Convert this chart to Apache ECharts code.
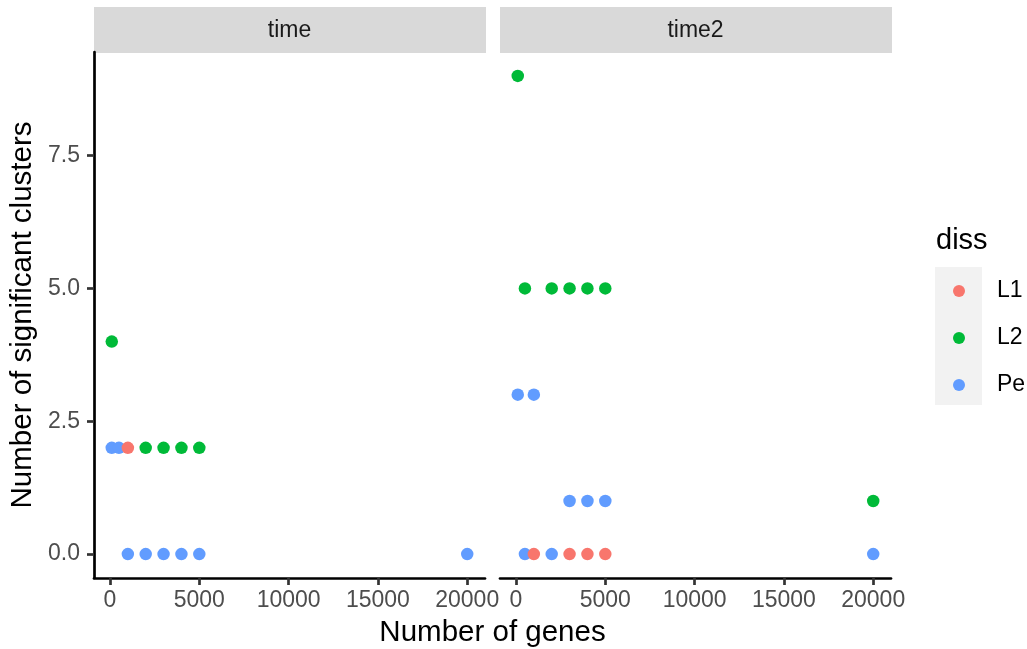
<!DOCTYPE html>
<html>
<head>
<meta charset="utf-8">
<script src="https://cdn.jsdelivr.net/npm/echarts@6/dist/echarts.min.js"></script>
<style>
html,body{margin:0;padding:0;background:#fff;}
#c{width:1027px;height:649px;}
</style>
</head>
<body>
<div id="c"></div>
<script>
// ---- data ----
const panels = ['time', 'time2'];
const groups = ['L1', 'L2', 'Pe'];
const xTicks = [0, 5000, 10000, 15000, 20000];
const yTicks = [0, 2.5, 5.0, 7.5];

// panel "time"
const timeL1 = [[1000, 2]];
const timeL2 = [[100, 4], [2000, 2], [3000, 2], [4000, 2], [5000, 2]];
const timePe = [[100, 2], [500, 2], [1000, 0], [2000, 0], [3000, 0], [4000, 0], [5000, 0], [20000, 0]];

// panel "time2"
const time2L1 = [[1000, 0], [3000, 0], [4000, 0], [5000, 0]];
const time2L2 = [[100, 9], [500, 5], [2000, 5], [3000, 5], [4000, 5], [5000, 5], [20000, 1]];
const time2Pe = [[100, 3], [1000, 3], [3000, 1], [4000, 1], [5000, 1], [500, 0], [2000, 0], [20000, 0]];

const colors = { L1: '#F8766D', L2: '#00BA38', Pe: '#619CFF' };

// ---- layout ----
const FONT = '"Liberation Sans", Arial, sans-serif';
const gridTop = 52, gridH = 526;
const grids = [
  { left: 94, top: gridTop, width: 391, height: gridH },
  { left: 500, top: gridTop, width: 391, height: gridH }
];
const xMin = -895, xMax = 20995, yMin = -0.45, yMax = 9.45;

const chart = echarts.init(document.getElementById('c'), null, { renderer: 'canvas' });

function xAxisFor(i) {
  return {
    type: 'value', gridIndex: i, min: xMin, max: xMax,
    splitLine: { show: false },
    axisLine: { show: true, onZero: false, lineStyle: { color: '#000', width: 2.7 } },
    axisTick: { show: true, length: 7, customValues: xTicks, lineStyle: { color: '#333', width: 2.7 } },
    axisLabel: { customValues: xTicks, margin: 11, color: '#4D4D4D', fontSize: 23, fontFamily: FONT,
      formatter: v => String(v) }
  };
}
function yAxisFor(i) {
  if (i === 1) {
    return { type: 'value', gridIndex: i, min: yMin, max: yMax, show: false, splitLine: { show: false } };
  }
  return {
    type: 'value', gridIndex: i, min: yMin, max: yMax,
    splitLine: { show: false },
    axisLine: { show: true, onZero: false, lineStyle: { color: '#000', width: 2.7 } },
    axisTick: { show: true, length: 7, customValues: yTicks, lineStyle: { color: '#333', width: 2.7 } },
    axisLabel: { customValues: yTicks, margin: 14, color: '#4D4D4D', fontSize: 23, fontFamily: FONT,
      formatter: v => Number(v).toFixed(1) }
  };
}

function sc(name, data, gi) {
  return {
    type: 'scatter', name: name, xAxisIndex: gi, yAxisIndex: gi, data: data,
    symbol: 'circle', symbolSize: 12.5,
    itemStyle: { color: colors[name], opacity: 1 },
    emphasis: { disabled: true }, silent: true
  };
}

const graphics = [];
panels.forEach((p, i) => {
  const g = grids[i];
  graphics.push({
    type: 'rect', left: g.left, top: 7, z: 0,
    shape: { width: g.width + 1, height: 46 },
    style: { fill: '#D9D9D9' }
  });
  graphics.push({
    type: 'text', x: g.left + g.width / 2, y: 31, z: 1,
    style: { text: p, fill: '#1A1A1A', font: '23px ' + FONT, textAlign: 'center', textVerticalAlign: 'middle' }
  });
});
graphics.push({
  type: 'text', x: 492.5, y: 633,
  style: { text: 'Number of genes', fill: '#000', font: '29.5px ' + FONT, textAlign: 'center', textVerticalAlign: 'middle' }
});
graphics.push({
  type: 'text', x: 23, y: 315, rotation: Math.PI / 2,
  style: { text: 'Number of significant clusters', fill: '#000', font: '29.5px ' + FONT, textAlign: 'center', textVerticalAlign: 'middle' }
});
graphics.push({
  type: 'text', x: 936, y: 241,
  style: { text: 'diss', fill: '#000', font: '29px ' + FONT, textAlign: 'left', textVerticalAlign: 'middle' }
});
graphics.push({
  type: 'rect', x: 935, y: 267, z: -10,
  shape: { width: 47, height: 138 },
  style: { fill: '#F2F2F2' }
});

const option = {
  animation: false,
  backgroundColor: '#fff',
  grid: grids.map(g => Object.assign({ containLabel: false }, g)),
  xAxis: [xAxisFor(0), xAxisFor(1)],
  yAxis: [yAxisFor(0), yAxisFor(1)],
  legend: {
    data: groups, orient: 'vertical', left: 953, top: 279.5, padding: 0,
    icon: 'circle', itemWidth: 12, itemHeight: 12, itemGap: 24,
    selectedMode: false, z: 5,
    textStyle: { fontSize: 23, color: '#000', fontFamily: FONT, padding: [0, 0, 0, 27] }
  },
  graphic: graphics,
  series: [
    sc('Pe', timePe, 0), sc('L2', timeL2, 0), sc('L1', timeL1, 0),
    sc('Pe', time2Pe, 1), sc('L2', time2L2, 1), sc('L1', time2L1, 1)
  ]
};
chart.setOption(option);
</script>
</body>
</html>
